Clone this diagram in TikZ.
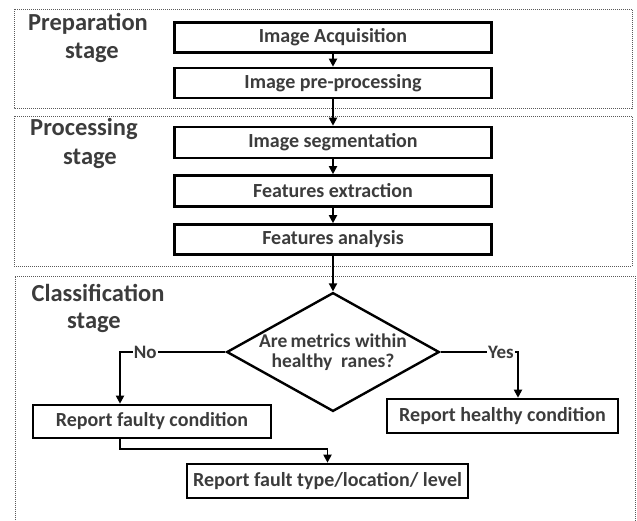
\documentclass[tikz,border=0pt]{standalone}
\usepackage{fontspec}
\setmainfont{Carlito}
\usetikzlibrary{shapes.geometric,arrows.meta}
\definecolor{txt}{RGB}{60,60,60}
\definecolor{dotc}{RGB}{90,90,90}
\tikzset{
  stagebox/.style={draw=dotc,line width=1pt,dash pattern=on 1pt off 1pt},
  stagelabel/.style={text=txt,font=\fontsize{24.5}{26}\selectfont\bfseries,inner sep=0pt,anchor=base,text height=17pt,text depth=5pt},
  procbox/.style={draw=black,line width=2.6pt,rectangle,inner sep=0pt,text=txt,font=\fontsize{20}{22}\selectfont\bfseries},
  decbox/.style={draw=black,line width=2.4pt,diamond,aspect=1.79,inner sep=0pt,minimum width=211pt,minimum height=118pt,text=txt,align=center,font=\fontsize{19.5}{19.5}\selectfont\bfseries},
  conn/.style={draw=black,line width=1.8pt},
  arr/.style={conn,-{Triangle[length=8pt,width=8pt]}},
  lbl/.style={fill=white,text=txt,inner sep=1pt,font=\fontsize{19}{20}\selectfont\bfseries}
}
\begin{document}
\begin{tikzpicture}[x=1pt,y=-1pt]
\useasboundingbox (0,0) rectangle (637,520);
% stage frames
\draw[stagebox] (14,9) rectangle (632,108);
\draw[stagebox] (14,116) rectangle (632,266);
\draw[stagebox] (15,522) -- (15,276) -- (635,276) -- (635,522);
% stage labels
\node[stagelabel] (lprep1) at (88,30) {Preparation};
\node[stagelabel] (lprep2) at (92,58) {stage};
\node[stagelabel] (lproc1) at (84,135) {Processing};
\node[stagelabel] (lproc2) at (90,164) {stage};
\node[stagelabel] (lcls1) at (98,301) {Classification};
\node[stagelabel] (lcls2) at (94,328) {stage};
% boxes
\node[procbox,minimum width=317pt,minimum height=30pt] (acq) at (333,37.5) {Image Acquisition};
\node[procbox,minimum width=317pt,minimum height=30pt] (pre) at (333,83) {Image pre-processing};
\node[procbox,minimum width=317pt,minimum height=31pt] (seg) at (333,142.5) {Image segmentation};
\node[procbox,minimum width=317pt,minimum height=31pt] (ext) at (333,191) {Features extraction};
\node[procbox,minimum width=317pt,minimum height=30pt] (ana) at (333,239.5) {Features analysis};
\node[decbox] (dec) at (333,352) {Are\,metrics within\\healthy\ \ ranes?};
\node[procbox,minimum width=238pt,minimum height=33pt] (faulty) at (152,421.5) {Report faulty condition};
\node[procbox,minimum width=231pt,minimum height=34pt] (healthy) at (502.5,416) {Report healthy condition};
\node[procbox,minimum width=281pt,minimum height=34pt] (ftype) at (327.5,481) {Report fault type/location/ level};
% helper coordinates
\coordinate (nox) at (120,0);
\coordinate (yesx) at (518,0);
\coordinate (elb) at (0,449);
% connectors
\draw[arr] (acq) -- (pre);
\draw[arr] (pre) -- (seg);
\draw[arr] (seg) -- (ext);
\draw[arr] (ext) -- (ana);
\draw[arr] (ana) -- (dec);
\draw[arr] (dec.west) -| node[lbl,pos=0.38] {No} (faulty.north -| nox);
\draw[arr] (dec.east) -| node[lbl,pos=0.39] {Yes} (healthy.north -| yesx);
\draw[arr] (faulty.south -| nox) |- (elb -| ftype.north) -- (ftype.north);
\end{tikzpicture}
\end{document}
